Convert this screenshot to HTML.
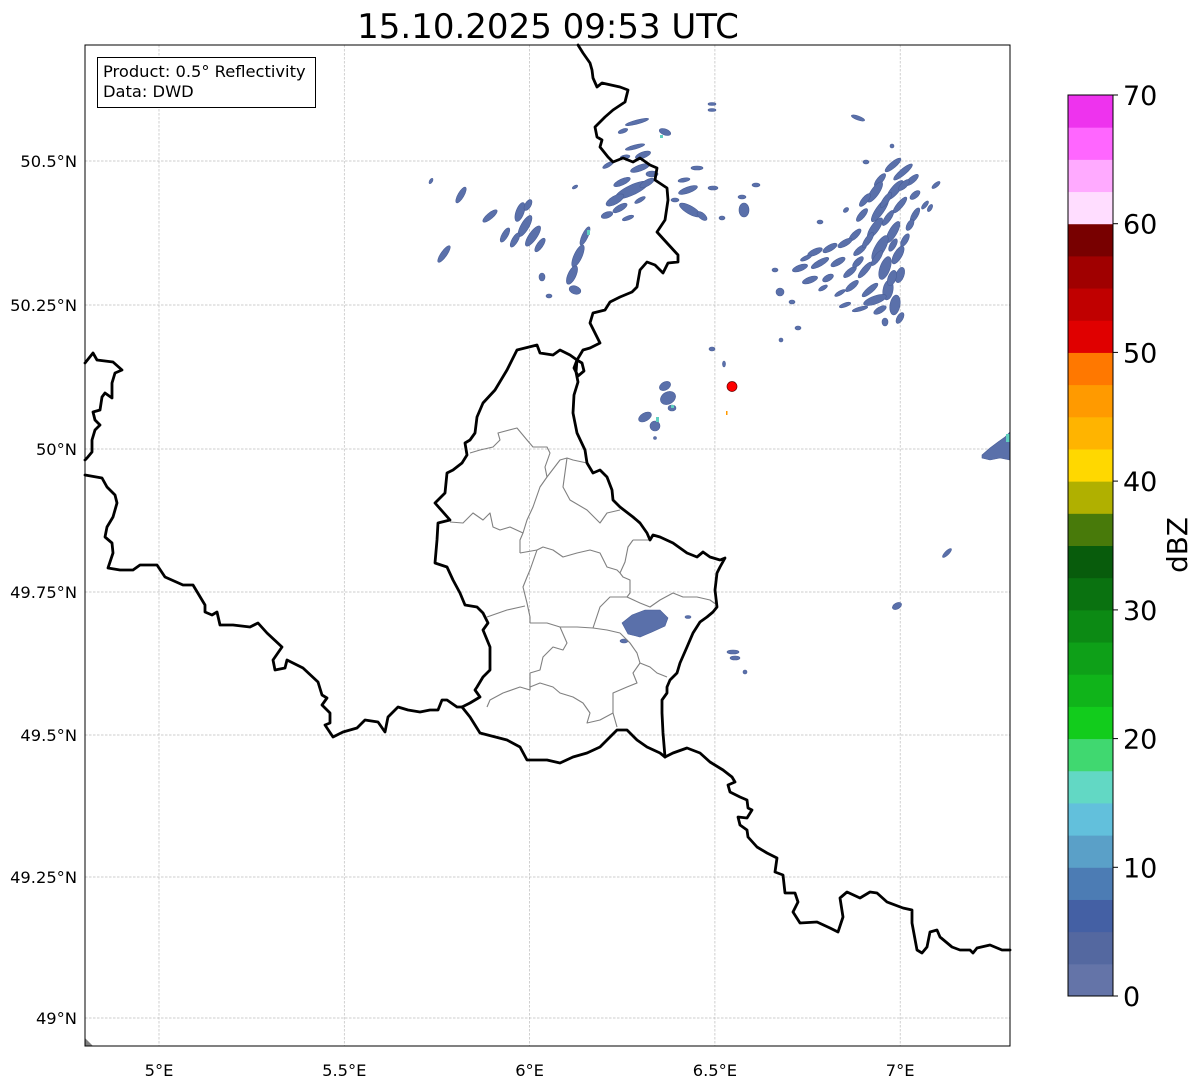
<!DOCTYPE html>
<html>
<head>
<meta charset="utf-8">
<style>
html,body{margin:0;padding:0;background:#fff;}
svg{display:block;font-family:"DejaVu Sans","Liberation Sans",sans-serif;}
</style>
</head>
<body>
<svg width="1202" height="1081" viewBox="0 0 1202 1081" xmlns="http://www.w3.org/2000/svg">
<rect x="0" y="0" width="1202" height="1081" fill="#fff"/>

<!-- Title -->
<text x="548" y="38" font-size="34" text-anchor="middle" fill="#000">15.10.2025 09:53 UTC</text>

<!-- Gridlines -->
<g stroke="#bcbcbc" stroke-width="0.7" stroke-dasharray="2.5 1.5" fill="none">
<line x1="159" y1="45" x2="159" y2="1046"/>
<line x1="344.3" y1="45" x2="344.3" y2="1046"/>
<line x1="529.6" y1="45" x2="529.6" y2="1046"/>
<line x1="714.9" y1="45" x2="714.9" y2="1046"/>
<line x1="900.2" y1="45" x2="900.2" y2="1046"/>
<line x1="85" y1="161" x2="1010" y2="161"/>
<line x1="85" y1="305" x2="1010" y2="305"/>
<line x1="85" y1="449" x2="1010" y2="449"/>
<line x1="85" y1="592" x2="1010" y2="592"/>
<line x1="85" y1="735" x2="1010" y2="735"/>
<line x1="85" y1="877" x2="1010" y2="877"/>
<line x1="85" y1="1018" x2="1010" y2="1018"/>
</g>

<!-- Radar echoes -->
<g fill="#5a70aa" stroke="#4a5f98" stroke-width="0.6">
<!-- top-right big cluster -->
<ellipse cx="893" cy="165" rx="10" ry="3" transform="rotate(-40 893 165)"/>
<ellipse cx="903" cy="172" rx="12" ry="3" transform="rotate(-40 903 172)"/>
<ellipse cx="880" cy="180" rx="8" ry="3" transform="rotate(-50 880 180)"/>
<ellipse cx="912" cy="180" rx="8" ry="3" transform="rotate(-40 912 180)"/>
<ellipse cx="875" cy="192" rx="12" ry="4" transform="rotate(-55 875 192)"/>
<ellipse cx="895" cy="190" rx="12" ry="4" transform="rotate(-50 895 190)"/>
<ellipse cx="915" cy="195" rx="6" ry="3" transform="rotate(-40 915 195)"/>
<ellipse cx="865" cy="200" rx="8" ry="3" transform="rotate(-50 865 200)"/>
<ellipse cx="880" cy="210" rx="14" ry="4" transform="rotate(-55 880 210)"/>
<ellipse cx="900" cy="205" rx="10" ry="3" transform="rotate(-50 900 205)"/>
<ellipse cx="862" cy="215" rx="8" ry="3" transform="rotate(-50 862 215)"/>
<ellipse cx="915" cy="215" rx="8" ry="3" transform="rotate(-60 915 215)"/>
<ellipse cx="925" cy="205" rx="5" ry="2" transform="rotate(-50 925 205)"/>
<ellipse cx="875" cy="228" rx="12" ry="4" transform="rotate(-55 875 228)"/>
<ellipse cx="893" cy="232" rx="12" ry="4" transform="rotate(-60 893 232)"/>
<ellipse cx="910" cy="225" rx="6" ry="3" transform="rotate(-60 910 225)"/>
<ellipse cx="855" cy="235" rx="8" ry="3" transform="rotate(-45 855 235)"/>
<ellipse cx="880" cy="248" rx="14" ry="5" transform="rotate(-60 880 248)"/>
<ellipse cx="898" cy="255" rx="10" ry="4" transform="rotate(-60 898 255)"/>
<ellipse cx="860" cy="250" rx="8" ry="3" transform="rotate(-40 860 250)"/>
<ellipse cx="845" cy="243" rx="8" ry="3" transform="rotate(-30 845 243)"/>
<ellipse cx="830" cy="248" rx="8" ry="3" transform="rotate(-30 830 248)"/>
<ellipse cx="815" cy="252" rx="8" ry="3" transform="rotate(-25 815 252)"/>
<ellipse cx="820" cy="263" rx="10" ry="3" transform="rotate(-30 820 263)"/>
<ellipse cx="838" cy="262" rx="8" ry="3" transform="rotate(-30 838 262)"/>
<ellipse cx="885" cy="268" rx="12" ry="5" transform="rotate(-70 885 268)"/>
<ellipse cx="900" cy="275" rx="8" ry="4" transform="rotate(-70 900 275)"/>
<ellipse cx="865" cy="270" rx="10" ry="3" transform="rotate(-50 865 270)"/>
<ellipse cx="850" cy="272" rx="8" ry="3" transform="rotate(-40 850 272)"/>
<ellipse cx="800" cy="268" rx="8" ry="3" transform="rotate(-20 800 268)"/>
<ellipse cx="810" cy="280" rx="8" ry="3" transform="rotate(-20 810 280)"/>
<ellipse cx="828" cy="278" rx="6" ry="3" transform="rotate(-30 828 278)"/>
<ellipse cx="888" cy="290" rx="10" ry="5" transform="rotate(-80 888 290)"/>
<ellipse cx="870" cy="290" rx="10" ry="3" transform="rotate(-40 870 290)"/>
<ellipse cx="852" cy="286" rx="8" ry="3" transform="rotate(-40 852 286)"/>
<ellipse cx="840" cy="293" rx="6" ry="2" transform="rotate(-30 840 293)"/>
<ellipse cx="780" cy="292" rx="4" ry="4"/>
<ellipse cx="875" cy="300" rx="12" ry="4" transform="rotate(-20 875 300)"/>
<ellipse cx="895" cy="305" rx="10" ry="5" transform="rotate(-80 895 305)"/>
<ellipse cx="900" cy="318" rx="6" ry="3" transform="rotate(-60 900 318)"/>
<ellipse cx="885" cy="322" rx="3" ry="4"/>
<ellipse cx="860" cy="309" rx="8" ry="2" transform="rotate(-15 860 309)"/>
<ellipse cx="845" cy="305" rx="6" ry="2" transform="rotate(-20 845 305)"/>
<ellipse cx="886" cy="200" rx="9" ry="3" transform="rotate(-55 886 200)"/>
<ellipse cx="904" cy="185" rx="7" ry="3" transform="rotate(-45 904 185)"/>
<ellipse cx="868" cy="240" rx="9" ry="3" transform="rotate(-55 868 240)"/>
<ellipse cx="888" cy="218" rx="9" ry="3" transform="rotate(-55 888 218)"/>
<ellipse cx="905" cy="240" rx="7" ry="3" transform="rotate(-60 905 240)"/>
<ellipse cx="892" cy="278" rx="8" ry="4" transform="rotate(-70 892 278)"/>
<ellipse cx="877" cy="258" rx="9" ry="3" transform="rotate(-55 877 258)"/>
<ellipse cx="858" cy="262" rx="7" ry="3" transform="rotate(-45 858 262)"/>
<ellipse cx="880" cy="310" rx="7" ry="3" transform="rotate(-30 880 310)"/>
<ellipse cx="893" cy="245" rx="7" ry="3" transform="rotate(-60 893 245)"/>
<ellipse cx="823" cy="288" rx="5" ry="2" transform="rotate(-30 823 288)"/>
<ellipse cx="806" cy="258" rx="6" ry="2" transform="rotate(-25 806 258)"/>
<ellipse cx="858" cy="118" rx="7" ry="2" transform="rotate(20 858 118)"/>
<ellipse cx="892" cy="146" rx="2" ry="2"/>
<ellipse cx="936" cy="185" rx="5" ry="2" transform="rotate(-40 936 185)"/>
<ellipse cx="930" cy="208" rx="4" ry="2" transform="rotate(-60 930 208)"/>
<ellipse cx="792" cy="302" rx="3" ry="2"/>
<ellipse cx="798" cy="328" rx="3" ry="2"/>
<ellipse cx="781" cy="340" rx="2" ry="2"/>
<ellipse cx="775" cy="270" rx="3" ry="2"/>
<ellipse cx="820" cy="222" rx="3" ry="2"/>
<ellipse cx="846" cy="210" rx="3" ry="2" transform="rotate(-40 846 210)"/>
<ellipse cx="866" cy="162" rx="3" ry="2"/>

<!-- top cluster near border -->
<ellipse cx="712" cy="104" rx="4" ry="1.5"/>
<ellipse cx="712" cy="110" rx="4" ry="1.5"/>
<ellipse cx="637" cy="122" rx="12" ry="2" transform="rotate(-15 637 122)"/>
<ellipse cx="623" cy="131" rx="5" ry="2" transform="rotate(-20 623 131)"/>
<ellipse cx="665" cy="132" rx="6" ry="3" transform="rotate(20 665 132)"/>
<ellipse cx="635" cy="147" rx="10" ry="2" transform="rotate(-15 635 147)"/>
<ellipse cx="643" cy="155" rx="8" ry="3" transform="rotate(-20 643 155)"/>
<ellipse cx="625" cy="157" rx="5" ry="2" transform="rotate(-10 625 157)"/>
<ellipse cx="608" cy="165" rx="6" ry="2" transform="rotate(-30 608 165)"/>
<ellipse cx="640" cy="168" rx="10" ry="3" transform="rotate(-20 640 168)"/>
<ellipse cx="652" cy="174" rx="6" ry="3"/>
<ellipse cx="632" cy="190" rx="18" ry="5" transform="rotate(-25 632 190)"/>
<ellipse cx="615" cy="200" rx="10" ry="4" transform="rotate(-30 615 200)"/>
<ellipse cx="647" cy="183" rx="8" ry="3" transform="rotate(-30 647 183)"/>
<ellipse cx="620" cy="208" rx="8" ry="3" transform="rotate(-30 620 208)"/>
<ellipse cx="607" cy="215" rx="6" ry="3" transform="rotate(-20 607 215)"/>
<ellipse cx="628" cy="218" rx="6" ry="2" transform="rotate(-20 628 218)"/>
<ellipse cx="640" cy="200" rx="6" ry="2" transform="rotate(-30 640 200)"/>
<ellipse cx="622" cy="182" rx="9" ry="3" transform="rotate(-25 622 182)"/>
<ellipse cx="697" cy="168" rx="6" ry="2"/>
<ellipse cx="688" cy="190" rx="10" ry="3" transform="rotate(-20 688 190)"/>
<ellipse cx="690" cy="210" rx="12" ry="4" transform="rotate(30 690 210)"/>
<ellipse cx="702" cy="216" rx="6" ry="3" transform="rotate(40 702 216)"/>
<ellipse cx="713" cy="188" rx="5" ry="2"/>
<ellipse cx="744" cy="210" rx="5" ry="7"/>
<ellipse cx="742" cy="197" rx="4" ry="2"/>
<ellipse cx="756" cy="185" rx="4" ry="2"/>
<ellipse cx="722" cy="218" rx="3" ry="2"/>
<ellipse cx="675" cy="200" rx="4" ry="2"/>
<ellipse cx="684" cy="180" rx="6" ry="2" transform="rotate(-10 684 180)"/>

<!-- left clusters -->
<ellipse cx="431" cy="181" rx="1.5" ry="3" transform="rotate(30 431 181)"/>
<ellipse cx="461" cy="195" rx="3" ry="9" transform="rotate(30 461 195)"/>
<ellipse cx="490" cy="216" rx="3" ry="9" transform="rotate(50 490 216)"/>
<ellipse cx="520" cy="212" rx="4" ry="10" transform="rotate(20 520 212)"/>
<ellipse cx="525" cy="226" rx="4" ry="12" transform="rotate(30 525 226)"/>
<ellipse cx="533" cy="236" rx="4" ry="12" transform="rotate(35 533 236)"/>
<ellipse cx="515" cy="240" rx="3" ry="8" transform="rotate(30 515 240)"/>
<ellipse cx="540" cy="245" rx="3" ry="8" transform="rotate(35 540 245)"/>
<ellipse cx="528" cy="205" rx="3" ry="6" transform="rotate(30 528 205)"/>
<ellipse cx="505" cy="235" rx="3" ry="8" transform="rotate(30 505 235)"/>
<ellipse cx="444" cy="254" rx="3" ry="10" transform="rotate(35 444 254)"/>
<ellipse cx="575" cy="187" rx="3" ry="1.5" transform="rotate(-30 575 187)"/>
<ellipse cx="585" cy="236" rx="3" ry="10" transform="rotate(25 585 236)"/>
<ellipse cx="578" cy="256" rx="4" ry="12" transform="rotate(25 578 256)"/>
<ellipse cx="572" cy="275" rx="4" ry="10" transform="rotate(25 572 275)"/>
<ellipse cx="575" cy="290" rx="6" ry="4" transform="rotate(20 575 290)"/>
<ellipse cx="542" cy="277" rx="3" ry="4"/>
<ellipse cx="549" cy="296" rx="3" ry="2"/>

<!-- mid cluster -->
<ellipse cx="665" cy="386" rx="6" ry="4" transform="rotate(-30 665 386)"/>
<ellipse cx="668" cy="398" rx="8" ry="6" transform="rotate(-30 668 398)"/>
<ellipse cx="672" cy="408" rx="4" ry="3"/>
<ellipse cx="645" cy="417" rx="7" ry="4" transform="rotate(-30 645 417)"/>
<ellipse cx="655" cy="426" rx="5" ry="5"/>
<ellipse cx="712" cy="349" rx="3" ry="2"/>
<ellipse cx="724" cy="364" rx="1.5" ry="3"/>
<ellipse cx="655" cy="438" rx="1.5" ry="1.5"/>

<!-- Luxembourg cluster -->
<polygon points="622,623 632,615 645,610 660,610 668,618 665,626 652,632 640,637 628,634"/>
<ellipse cx="624" cy="641" rx="4" ry="2"/>
<ellipse cx="688" cy="617" rx="3" ry="1.5"/>
<ellipse cx="733" cy="652" rx="6" ry="2"/>
<ellipse cx="735" cy="658" rx="5" ry="2"/>
<ellipse cx="745" cy="672" rx="2" ry="2"/>

<!-- right edge -->
<polygon points="982,455 990,448 998,442 1005,437 1010,432 1010,460 1000,458 990,460 982,458"/>
<ellipse cx="947" cy="553" rx="6" ry="2" transform="rotate(-45 947 553)"/>
<ellipse cx="897" cy="606" rx="5" ry="3" transform="rotate(-30 897 606)"/>
</g>

<!-- teal accents -->
<g fill="#60d0c0">
<rect x="656" y="417" width="3" height="5"/>
<rect x="671" y="405" width="3" height="3"/>
<rect x="587" y="230" width="3" height="5"/>
<rect x="1006" y="434" width="4" height="8"/>
<rect x="660" y="135" width="3" height="3"/>
</g>
<rect x="726" y="411" width="1.5" height="4" fill="#ff9a00"/>

<!-- canton boundaries -->
<g stroke="#808080" stroke-width="1.1" fill="none" stroke-linejoin="round">
<polyline points="470,453 480,450 493,447 500,440 498,433 517,428 527,440 533,447 547,447 550,453 545,467 547,477 540,487 533,507 527,520 523,533 520,540 520,553"/>
<polyline points="547,477 560,460 567,458 573,460 587,463"/>
<polyline points="567,458 563,487 570,500 587,510 600,523 607,513 620,510"/>
<polyline points="450,522 463,523 473,513 483,520 490,513 493,527 500,530 510,527 523,533"/>
<polyline points="520,553 537,550 543,547 553,550 563,557 577,553 590,550 600,553 607,567 617,570 620,573"/>
<polyline points="633,540 628,547 625,562 620,573 623,577 630,580 630,593 627,597"/>
<polyline points="633,540 650,540"/>
<polyline points="537,550 530,570 527,577 523,587 527,603 530,617 530,623"/>
<polyline points="487,617 507,610 525,606"/>
<polyline points="530,623 547,623 560,627 577,627 593,628 607,630 620,633"/>
<polyline points="593,628 600,607 610,597 627,597 640,603 650,607 660,600 673,593 683,597 697,597 710,600 717,605"/>
<polyline points="620,633 630,643 637,653 640,663 650,667 657,673 667,677"/>
<polyline points="560,627 567,643 563,650 553,647 543,657 540,670 530,673 530,690 520,687 503,693 490,700 487,707"/>
<polyline points="530,687 540,683 553,687 560,693 573,697 583,703 590,713 587,723 600,720 613,713"/>
<polyline points="640,663 633,673 637,683 627,687 613,693 613,713 617,727"/>
</g>

<!-- national borders -->
<g stroke="#000" stroke-width="2.8" fill="none" stroke-linejoin="round" stroke-linecap="round">
<polyline points="578,45 583,53 590,63 592,70 593,78 597,87 602,83 620,87 628,90 625,102 613,110 605,117 595,127 597,137 602,140 600,147 608,157 613,162 623,158 633,162 640,158 650,165 657,168 655,180 667,188 668,200 665,220 657,232 667,243 678,255 678,262 668,263 663,273 655,265 647,262 640,270 637,287 632,292 620,297 610,302 605,310 593,313 590,323 595,333 600,343 590,348 583,350 577,360 574,368 578,376 584,371 582,363 577,360 576,372 578,382 574,395 573,413 577,433 585,450 587,463 593,473 600,470 607,477 612,490 613,500 620,507 633,517 640,523 647,533 650,540 653,535 660,537 673,543 687,553 697,557 703,552 710,557 720,560 725,558 720,567 717,573 715,590 717,607 713,612 707,617 700,622 693,633 687,647 680,663 677,673 670,680 667,687 667,693 662,700 662,713 663,733 665,757"/>
<polyline points="665,757 673,753 687,748 700,753 710,762 723,770 732,777 735,782 728,785 730,792 740,797 747,800 748,808 752,810 747,818 738,817 740,825 747,830 748,837 757,847 767,853 777,858 775,872 783,875 785,893 795,893 798,902 793,912 800,923 817,922 830,928 838,932 843,917 840,898 847,892 860,898 870,892 877,893 887,902 903,908 912,910 912,923 917,950 922,953 927,947 930,932 937,930 940,937 952,947 960,950 970,950 973,953 977,948 990,945 1002,950 1010,950"/>
<polyline points="462,707 470,717 480,733 507,740 520,747 527,760 547,760 560,763 573,757 587,753 600,747 617,730 627,730 637,740 647,747 660,753 665,757"/>
<polyline points="577,360 570,355 560,350 553,355 540,353 537,345 517,350 507,370 495,390 483,403 477,417 475,433 470,440 465,443 467,455 462,463 453,470 447,473 445,493 435,503 450,520 438,523 437,540 435,563 447,567 453,580 460,593 465,605 477,607 483,613 488,623 483,630 490,647 490,670 483,677 477,687 475,690 480,697 470,703 462,707"/>
<polyline points="462,707 457,707 447,700 442,700 438,710 430,710 420,712 408,710 398,707 388,717 385,732 378,722 365,720 357,728 343,732 333,737 325,725 330,723 330,713 322,705 327,698 322,695 318,682 303,668 287,660 285,668 275,670 273,660 282,647 267,633 258,623 250,627 233,625 220,625 217,612 212,615 205,612 205,605 193,585 183,585 165,577 157,565 140,565 133,570 120,570 108,568 113,553 112,543 105,537 107,527 113,517 117,503 115,495 107,487 102,478 85,475"/>
<polyline points="85,363 93,353 97,360 113,362 122,370 115,373 112,383 112,398 105,393 102,397 100,410 93,412 95,420 100,425 95,430 92,440 92,452 87,458 85,460"/>
</g>

<!-- radar site -->
<circle cx="732" cy="386.5" r="5" fill="#ff0000" stroke="#600" stroke-width="0.7"/>

<!-- bottom-left wedge -->
<polygon points="85,1038 93,1046 85,1046" fill="#808080"/>

<!-- axes frame -->
<rect x="85" y="45" width="925" height="1001" fill="none" stroke="#000" stroke-width="1"/>

<!-- info box -->
<rect x="97.5" y="57.5" width="218" height="50" fill="#fff" stroke="#000" stroke-width="1"/>
<text x="103" y="77" font-size="16.3" fill="#000">Product: 0.5° Reflectivity</text>
<text x="103" y="97" font-size="16.3" fill="#000">Data: DWD</text>

<!-- Y labels -->
<g font-size="16.3" text-anchor="end" fill="#000">
<text x="77" y="167">50.5°N</text>
<text x="77" y="311">50.25°N</text>
<text x="77" y="455">50°N</text>
<text x="77" y="598">49.75°N</text>
<text x="77" y="741">49.5°N</text>
<text x="77" y="883">49.25°N</text>
<text x="77" y="1024">49°N</text>
</g>
<!-- X labels -->
<g font-size="16.3" text-anchor="middle" fill="#000">
<text x="159" y="1076">5°E</text>
<text x="344.3" y="1076">5.5°E</text>
<text x="529.6" y="1076">6°E</text>
<text x="714.9" y="1076">6.5°E</text>
<text x="900.2" y="1076">7°E</text>
</g>

<!-- Colorbar -->
<g>
<rect x="1068" y="963.82" width="45" height="32.68" fill="#6474a8"/>
<rect x="1068" y="931.64" width="45" height="32.68" fill="#5468a0"/>
<rect x="1068" y="899.46" width="45" height="32.68" fill="#4460a4"/>
<rect x="1068" y="867.29" width="45" height="32.68" fill="#4c7cb4"/>
<rect x="1068" y="835.11" width="45" height="32.68" fill="#5aa0c8"/>
<rect x="1068" y="802.93" width="45" height="32.68" fill="#62c0dc"/>
<rect x="1068" y="770.75" width="45" height="32.68" fill="#62d8c4"/>
<rect x="1068" y="738.57" width="45" height="32.68" fill="#40d870"/>
<rect x="1068" y="706.39" width="45" height="32.68" fill="#12cc1c"/>
<rect x="1068" y="674.21" width="45" height="32.68" fill="#10b41a"/>
<rect x="1068" y="642.04" width="45" height="32.68" fill="#0ea018"/>
<rect x="1068" y="609.86" width="45" height="32.68" fill="#0c8a14"/>
<rect x="1068" y="577.68" width="45" height="32.68" fill="#0a7210"/>
<rect x="1068" y="545.50" width="45" height="32.68" fill="#085c0c"/>
<rect x="1068" y="513.32" width="45" height="32.68" fill="#487a0a"/>
<rect x="1068" y="481.14" width="45" height="32.68" fill="#b0b000"/>
<rect x="1068" y="448.96" width="45" height="32.68" fill="#ffd800"/>
<rect x="1068" y="416.79" width="45" height="32.68" fill="#ffb400"/>
<rect x="1068" y="384.61" width="45" height="32.68" fill="#ff9a00"/>
<rect x="1068" y="352.43" width="45" height="32.68" fill="#ff7800"/>
<rect x="1068" y="320.25" width="45" height="32.68" fill="#e00000"/>
<rect x="1068" y="288.07" width="45" height="32.68" fill="#c00000"/>
<rect x="1068" y="255.89" width="45" height="32.68" fill="#a00000"/>
<rect x="1068" y="223.71" width="45" height="32.68" fill="#780000"/>
<rect x="1068" y="191.54" width="45" height="32.68" fill="#ffddff"/>
<rect x="1068" y="159.36" width="45" height="32.68" fill="#ffaaff"/>
<rect x="1068" y="127.18" width="45" height="32.68" fill="#ff66ff"/>
<rect x="1068" y="95" width="45" height="32.68" fill="#ee33ee"/>
<rect x="1068" y="95" width="45" height="901" fill="none" stroke="#000" stroke-width="1"/>
</g>
<g stroke="#000" stroke-width="1">
<line x1="1113" y1="996" x2="1118" y2="996"/>
<line x1="1113" y1="867.3" x2="1118" y2="867.3"/>
<line x1="1113" y1="738.6" x2="1118" y2="738.6"/>
<line x1="1113" y1="609.9" x2="1118" y2="609.9"/>
<line x1="1113" y1="481.1" x2="1118" y2="481.1"/>
<line x1="1113" y1="352.4" x2="1118" y2="352.4"/>
<line x1="1113" y1="223.7" x2="1118" y2="223.7"/>
<line x1="1113" y1="95" x2="1118" y2="95"/>
</g>
<g font-size="27" fill="#000">
<text x="1123" y="1006">0</text>
<text x="1123" y="877.3">10</text>
<text x="1123" y="748.6">20</text>
<text x="1123" y="619.9">30</text>
<text x="1123" y="491.1">40</text>
<text x="1123" y="362.4">50</text>
<text x="1123" y="233.7">60</text>
<text x="1123" y="105">70</text>
</g>
<text transform="translate(1187,545) rotate(-90)" font-size="27.8" text-anchor="middle" fill="#000">dBZ</text>
</svg>
</body>
</html>
